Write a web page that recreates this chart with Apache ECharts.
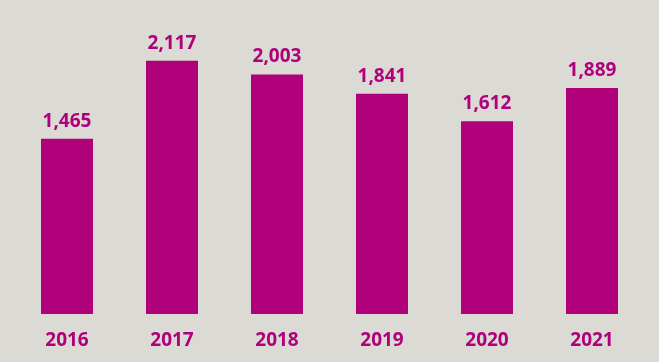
<!DOCTYPE html>
<html><head><meta charset="utf-8">
<script src="https://cdn.jsdelivr.net/npm/echarts@6/dist/echarts.min.js"></script>
<style>html,body{margin:0;padding:0;background:#dbdad5;}#c{width:659px;height:362px;}</style>
</head><body><div id="c"></div>
<script>
const categories = ['2016','2017','2018','2019','2020','2021'];
const values = [1465, 2117, 2003, 1841, 1612, 1889];
const chart = echarts.init(document.getElementById('c'));
chart.setOption({
  backgroundColor: '#dbdad5',
  animation: false,
  grid: {left: 14.5, right: 14.5, top: 15, bottom: 48},
  xAxis: {type: 'category', data: categories,
    axisLine: {show: false}, axisTick: {show: false},
    axisLabel: {color: '#b0007a', fontFamily: 'Open Sans', fontWeight: 'bold', fontSize: 19, margin: 17}},
  yAxis: {type: 'value', min: 0, max: 2500, show: false, splitLine: {show: false}},
  series: [{type: 'bar', data: values, barWidth: 52,
    itemStyle: {color: '#b0007a'},
    label: {show: true, position: 'top', distance: 8, color: '#b0007a', fontFamily: 'Open Sans', fontWeight: 'bold', fontSize: 19,
      formatter: p => p.value.toLocaleString('en-US')}}]
});
</script></body></html>
